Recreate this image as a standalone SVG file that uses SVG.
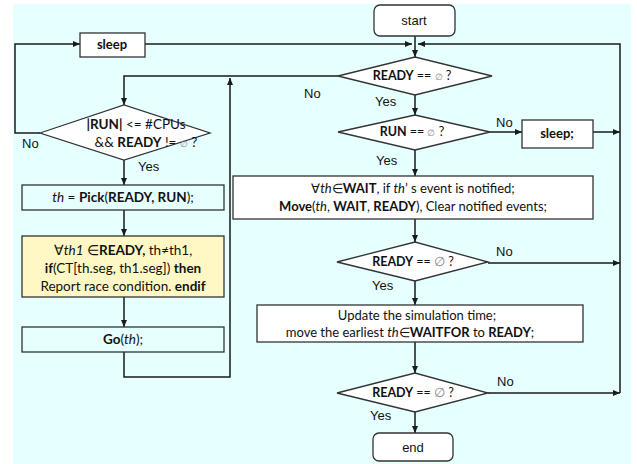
<svg xmlns="http://www.w3.org/2000/svg" width="637" height="464" viewBox="0 0 637 464">
<defs>
<marker id="ah" markerWidth="8" markerHeight="7" refX="7" refY="3.5" orient="auto" markerUnits="userSpaceOnUse"><path d="M0,0.5 L7,3.5 L0,6.5 z" fill="#1a1a1a"/></marker>
<style>
.bg{fill:#e6ffff}
.box{fill:#ffffff;stroke:#333;stroke-width:1.3}
.cbox{fill:#e6ffff;stroke:#333;stroke-width:1.3}
.ybox{fill:#fff8c4;stroke:#333;stroke-width:1.3}
.dia{fill:#ffffff;stroke:#333;stroke-width:1.3}
.c{fill:none;stroke:#1a1a1a;stroke-width:1.5;marker-end:url(#ah)}
.a{font-family:"Liberation Sans",Arial,sans-serif;font-size:13px;fill:#111}
.t{font-family:Lato,"Open Sans",sans-serif;font-size:13px;fill:#111}
.tl{font-size:13.5px}
.td{font-size:12.5px}
.b{font-weight:bold}
.i{font-style:italic}
.g{fill:#888}
</style>
</defs>
<rect class="bg" x="13" y="4" width="618" height="460"/>
<g id="connectors">
<path class="c" d="M415,36 V57"/>
<path class="c" d="M40,133 H15 V44 H80"/>
<path class="c" d="M145,44 H412"/>
<path class="c" d="M620,393 V44 H418"/>
<path class="c" d="M490,132 H522"/>
<path class="c" d="M593,132 H620"/>
<path class="c" d="M488,263 H620"/>
<path class="c" d="M488,393 H620"/>
<path class="c" d="M338,76 H124 V105"/>
<path class="c" d="M415,95 V115"/>
<path class="c" d="M124,160 V185"/>
<path class="c" d="M124,210 V236"/>
<path class="c" d="M124,297 V327"/>
<path class="c" d="M124,347 V377 H230 V78"/>
<path class="c" d="M415,150 V176"/>
<path class="c" d="M415,219 V242"/>
<path class="c" d="M415,281 V305"/>
<path class="c" d="M415,342 V373"/>
<path class="c" d="M415,412 V433"/>
</g>
<g id="labels">
<text class="a" x="304" y="98">No</text>
<text class="a" x="375" y="106">Yes</text>
<text class="a" x="496" y="127">No</text>
<text class="a" x="376" y="165">Yes</text>
<text class="a" x="22" y="148">No</text>
<text class="a" x="138" y="171">Yes</text>
<text class="a" x="496" y="256">No</text>
<text class="a" x="372" y="290">Yes</text>
<text class="a" x="497" y="386">No</text>
<text class="a" x="370" y="420">Yes</text>
</g>
<g id="start">
<rect class="box" x="374" y="5" width="81" height="31" rx="6"/>
<text class="a" x="414" y="25" text-anchor="middle">start</text>
</g>
<g id="sleep">
<rect class="box" x="80" y="33" width="65" height="24"/>
<text class="t b" x="112" y="49" text-anchor="middle">sleep</text>
</g>
<g id="ready1">
<polygon class="dia" points="338,76 415,57 492,76 415,95"/>
<text class="t td" x="412" y="80" text-anchor="middle"><tspan class="b">READY</tspan> == <tspan class="g" font-size="9">∅</tspan> ?</text>
</g>
<g id="run">
<polygon class="dia" points="338,132 415,115 490,132 415,150"/>
<text class="t td" x="412" y="136" text-anchor="middle"><tspan class="b">RUN</tspan> == <tspan class="g" font-size="9">∅</tspan> ?</text>
</g>
<g id="sleep2">
<rect class="box" x="522" y="120" width="71" height="28"/>
<text class="t b" x="557" y="138" text-anchor="middle">sleep;</text>
</g>
<g id="cpus">
<polygon class="dia" points="40,133 124,105 210,133 124,160"/>
<text class="t tl" x="136" y="129" text-anchor="middle"><tspan class="b">|RUN|</tspan> &lt;= #CPUs</text>
<text class="t tl" x="146" y="147" text-anchor="middle">&amp;&amp; <tspan class="b">READY</tspan> != <tspan class="g" font-size="9">∅</tspan> ?</text>
</g>
<g id="pick">
<rect class="cbox" x="22" y="185" width="202" height="25"/>
<text class="t tl" x="123" y="202" text-anchor="middle"><tspan class="i">th</tspan> = <tspan class="b">Pick</tspan>(<tspan class="b">READY, RUN</tspan>);</text>
</g>
<g id="race">
<rect class="ybox" x="22" y="236" width="202" height="61"/>
<text class="t tl" x="123" y="255" text-anchor="middle">∀<tspan class="i">th1</tspan> ∈<tspan class="b">READY,</tspan> th≠th1,</text>
<text class="t tl" x="123" y="273" text-anchor="middle"><tspan class="b">if</tspan>(CT[th.seg, th1.seg]) <tspan class="b">then</tspan></text>
<text class="t tl" x="123" y="291" text-anchor="middle">Report race condition. <tspan class="b">endif</tspan></text>
</g>
<g id="go">
<rect class="cbox" x="22" y="327" width="202" height="25"/>
<text class="t tl" x="123" y="344" text-anchor="middle"><tspan class="b">Go</tspan>(<tspan class="i">th</tspan>);</text>
</g>
<g id="wait">
<rect class="box" x="233" y="176" width="360" height="43"/>
<text class="t" x="413" y="193" text-anchor="middle">∀<tspan class="i">th</tspan>∈<tspan class="b">WAIT</tspan>, if <tspan class="i">th</tspan>’ s event is notified;</text>
<text class="t" x="413" y="211" text-anchor="middle"><tspan class="b">Move</tspan>(<tspan class="i">th</tspan>, <tspan class="b">WAIT</tspan>, <tspan class="b">READY</tspan>), Clear notified events;</text>
</g>
<g id="ready2">
<polygon class="dia" points="337,262 415,242 488,262 415,281"/>
<text class="t td" x="413" y="266" text-anchor="middle"><tspan class="b">READY</tspan> == <tspan class="g" font-family="Liberation Sans" font-size="13">∅</tspan> ?</text>
</g>
<g id="update">
<rect class="box" x="257" y="305" width="326" height="37"/>
<text class="t" x="417" y="320" text-anchor="middle">Update the simulation time;</text>
<text class="t" x="410" y="337" text-anchor="middle">move the earliest <tspan class="i">th</tspan>∈<tspan class="b">WAITFOR</tspan> to <tspan class="b">READY</tspan>;</text>
</g>
<g id="ready3">
<polygon class="dia" points="337,393 415,373 488,393 415,412"/>
<text class="t td" x="413" y="397" text-anchor="middle"><tspan class="b">READY</tspan> == <tspan class="g" font-family="Liberation Sans" font-size="13">∅</tspan> ?</text>
</g>
<g id="end">
<rect class="box" x="373" y="433" width="80" height="28" rx="6"/>
<text class="a" x="413" y="452" text-anchor="middle">end</text>
</g>
</svg>
